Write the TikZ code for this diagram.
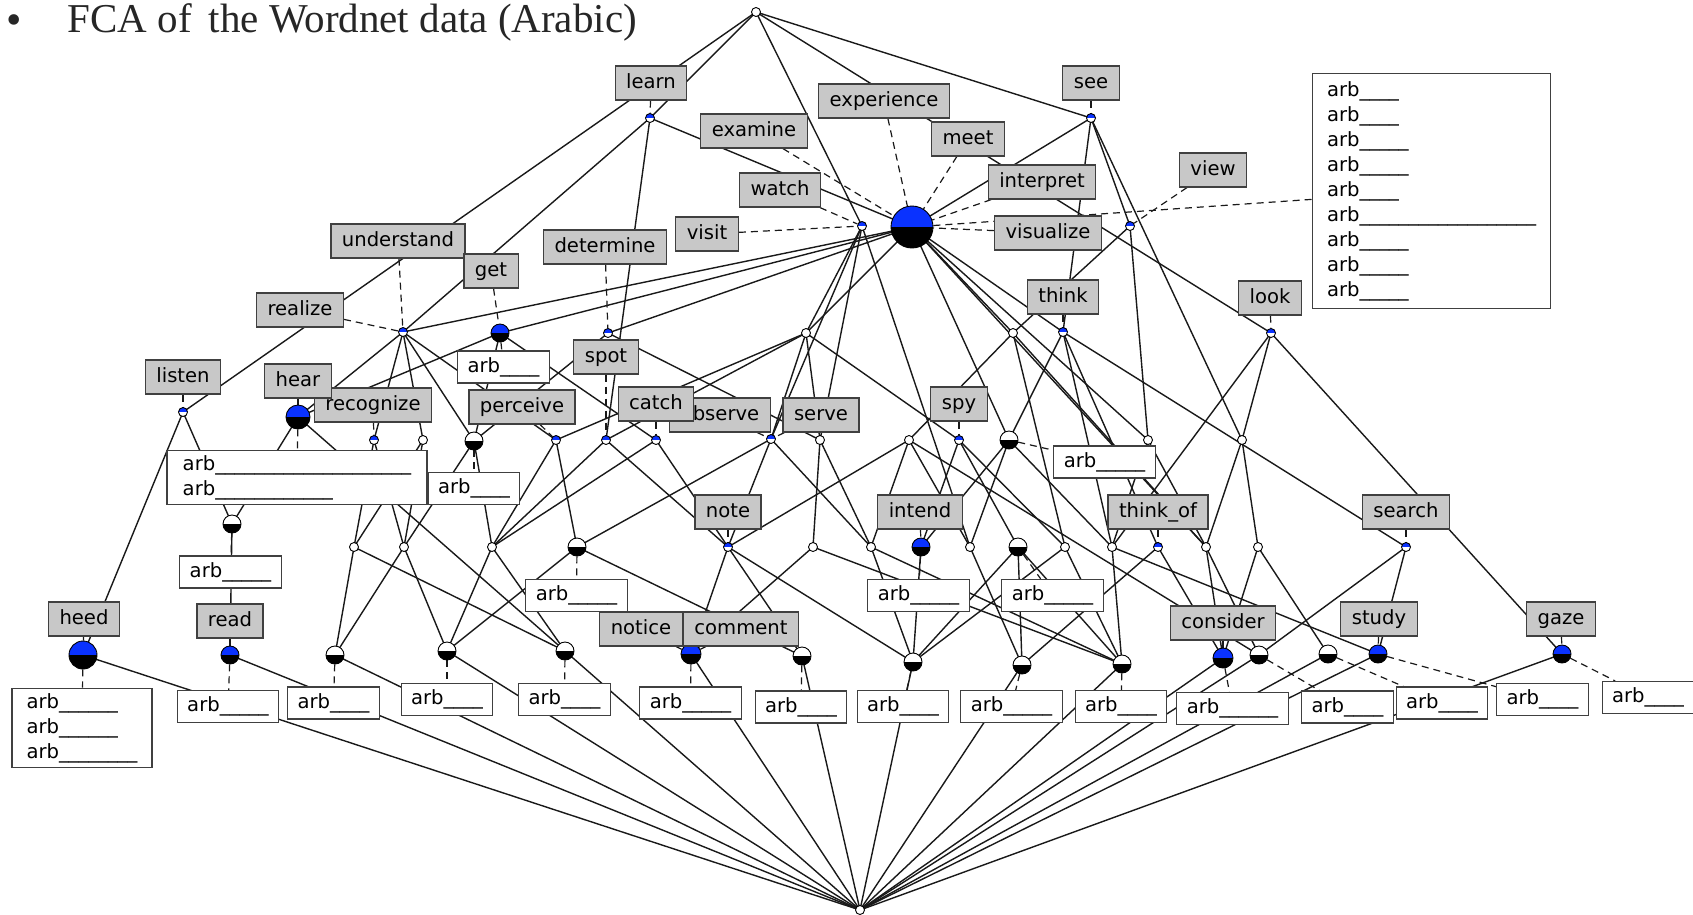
\documentclass[tikz,border=0pt]{standalone}
\usepackage{fontspec}
\setmainfont{Liberation Serif}
\newfontfamily\labfont{DejaVu Sans}
\newcommand\labtxt{\labfont\fontsize{19.6}{25}\selectfont}
\newcommand\ttltxt{\fontsize{41}{44}\selectfont}
\definecolor{cblue}{RGB}{10,50,255}
\definecolor{lblgray}{RGB}{200,200,200}
\pgfdeclarelayer{bg}
\pgfdeclarelayer{paper}
\pgfsetlayers{paper,bg,main}
\tikzset{
  attr/.style={draw=black!75, line width=1.2pt, fill=lblgray, font=\labtxt,
    inner xsep=11pt, inner ysep=0pt, minimum height=34pt, text height=14.5pt, text depth=4.5pt},
  obj/.style={draw=black!75, line width=1.2pt, fill=white, font=\labtxt,
    inner xsep=10pt, inner ysep=0pt, minimum height=32pt, text height=14.5pt, text depth=4.5pt},
  objm/.style={draw=black!75, line width=1.2pt, fill=white, font=\labtxt,
    inner xsep=10pt, inner ysep=5pt, align=left},
  edge/.style={line width=1.4pt, black!90},
  lbl/.style={line width=1.2pt, black!90, dash pattern=on 7pt off 5pt},
  cpt/.style n args={3}{circle, draw=black, line width=0.9pt, inner sep=0pt, minimum size=#1,
    path picture={
      \fill[#2] (path picture bounding box.north west) rectangle (path picture bounding box.east);
      \fill[#3] (path picture bounding box.west) rectangle (path picture bounding box.south east);}},
  sb/.style={cpt={9pt}{cblue}{white}},
  sw/.style={cpt={9pt}{white}{white}},
  hw/.style={cpt={18pt}{white}{black}},
  bb/.style={cpt={#1}{cblue}{black}},
}
\begin{document}
\begin{tikzpicture}[x=1pt,y=-1pt]
\begin{pgfonlayer}{paper}
\fill[white] (0,0) rectangle (1693,914);
\end{pgfonlayer}
\useasboundingbox (0,0) rectangle (1693,914);

% heading
\node[anchor=base, font=\fontsize{44}{44}\selectfont, text=black!85] (bul) at (14,34) {•};
\node[anchor=base west, font=\ttltxt, text=black!85] (title) at (64,32) {FCA of\ \,the Wordnet data (Arabic)};

% ---------- concepts ----------
\node[sw] (T) at (756,12) {};
\node[sw] (B) at (860,910) {};
\node[sb] (nLearn) at (650,118) {};
\node[sb] (nSee) at (1091,118) {};
\node[sb] (nVisit) at (862,226) {};
\node[bb=42pt] (nBig) at (912,227) {};
\node[sb] (nView) at (1130,226) {};
\node[sb] (nUnd) at (403,332) {};
\node[bb=18pt] (nGet) at (500,333) {};
\node[sb] (nDet) at (608,333) {};
\node[sw] (c1) at (806,333) {};
\node[sw] (c2) at (1013,333) {};
\node[sb] (nThink) at (1063,332) {};
\node[sb] (nLook) at (1271,333) {};
\node[sb] (nListen) at (183,412) {};
\node[bb=24pt] (nHear) at (298,417) {};
\node[sb] (nRecog) at (374,440) {};
\node[sw] (e1) at (423,440) {};
\node[hw] (h1) at (474,441) {};
\node[sb] (nPerc) at (556,440) {};
\node[sb] (nSpot) at (606,440) {};
\node[sb] (nCatch) at (656,440) {};
\node[sb] (nObs) at (771,439) {};
\node[sw] (nServe) at (820,440) {};
\node[sw] (e2) at (909,440) {};
\node[sb] (nSpy) at (959,440) {};
\node[hw] (h2) at (1009,440) {};
\node[sw] (e3) at (1148,440) {};
\node[sw] (e4) at (1242,440) {};
\node[hw] (h3) at (232,524) {};
\node[sw] (g1) at (354,547) {};
\node[sw] (g2) at (404,547) {};
\node[sw] (g3) at (492,547) {};
\node[hw] (h4) at (577,547) {};
\node[sb] (nNote) at (728,547) {};
\node[sw] (g4) at (813,547) {};
\node[sw] (g5) at (871,547) {};
\node[bb=18pt] (nIntend) at (921,547) {};
\node[sw] (g6) at (970,547) {};
\node[hw] (h5) at (1018,547) {};
\node[sw] (g7) at (1065,547) {};
\node[sw] (g8) at (1112,547) {};
\node[sb] (nThinkOf) at (1158,547) {};
\node[sw] (g9) at (1206,547) {};
\node[sw] (g10) at (1258,547) {};
\node[sb] (nSearch) at (1406,547) {};
\node[bb=28pt] (nHeed) at (83,655) {};
\node[bb=18pt] (nRead) at (230,655) {};
\node[hw] (h6) at (335,655) {};
\node[hw] (h7) at (447,651) {};
\node[hw] (h8) at (565,651) {};
\node[bb=20pt] (nNotice) at (691,654) {};
\node[hw] (h9) at (802,656) {};
\node[hw] (h10) at (913,662) {};
\node[hw] (h11) at (1022,665) {};
\node[hw] (h12) at (1122,664) {};
\node[bb=20pt] (nConsider) at (1223,658) {};
\node[hw] (h13) at (1259,655) {};
\node[hw] (h14) at (1328,654) {};
\node[bb=18pt] (nStudy) at (1378,654) {};
\node[bb=18pt] (nGaze) at (1562,654) {};

% ---------- attribute labels ----------
\node[attr] (lLearn) at (651,83) {learn};
\node[attr] (lExamine) at (754,131) {examine};
\node[attr] (lExperience) at (884,101) {experience};
\node[attr] (lMeet) at (968,139) {meet};
\node[attr] (lSee) at (1091,83) {see};
\node[attr] (lWatch) at (780,190) {watch};
\node[attr] (lVisit) at (707,234) {visit};
\node[attr] (lInterpret) at (1042,182) {interpret};
\node[attr] (lVisualize) at (1048,233) {visualize};
\node[attr] (lView) at (1213,170) {view};
\node[attr] (lThink) at (1063,297) {think};
\node[attr] (lLook) at (1270,298) {look};
\node[attr] (lUnderstand) at (398,241) {understand};
\node[attr] (lDetermine) at (605,247) {determine};
\node[attr] (lGet) at (491,271) {get};
\node[attr] (lRealize) at (300,310) {realize};
\node[attr] (lListen) at (183,377) {listen};
\node[attr] (lRecognize) at (373,405) {recognize};
\node[attr] (lHear) at (298,381) {hear};
\node[attr] (lSpot) at (606,357) {spot};
\node[attr] (lPerceive) at (522,407) {perceive};
\node[attr] (lObserve) at (720,415) {observe};
\node[attr] (lCatch) at (656,404) {catch};
\node[attr] (lServe) at (821,415) {serve};
\node[attr] (lSpy) at (959,404) {spy};
\node[attr] (lNote) at (728,512) {note};
\node[attr] (lIntend) at (920,512) {intend};
\node[attr] (lThinkOf) at (1158,512) {think\_of};
\node[attr] (lSearch) at (1406,512) {search};
\node[attr] (lHeed) at (84,619) {heed};
\node[attr] (lRead) at (230,621) {read};
\node[attr] (lNotice) at (641,629) {notice};
\node[attr] (lComment) at (741,629) {comment};
\node[attr] (lConsider) at (1223,623) {consider};
\node[attr] (lStudy) at (1379,619) {study};
\node[attr] (lGaze) at (1561,619) {gaze};

% ---------- object labels ----------
\node[objm, anchor=north west, minimum width=238pt, minimum height=235pt] (oBig) at (1312,73)
  {arb\_\_\_\_\\arb\_\_\_\_\\arb\_\_\_\_\_\\arb\_\_\_\_\_\\arb\_\_\_\_\\arb\_\_\_\_\_\_\_\_\_\_\_\_\_\_\_\_\_\_\\arb\_\_\_\_\_\\arb\_\_\_\_\_\\arb\_\_\_\_\_};
\node[objm, minimum width=260pt] (oHear) at (297,477.5)
  {arb\_\_\_\_\_\_\_\_\_\_\_\_\_\_\_\_\_\_\_\_\\arb\_\_\_\_\_\_\_\_\_\_\_\_};
\node[obj] (oH3) at (230.5,572) {arb\_\_\_\_\_};
\node[obj] (oGet) at (503.5,367) {arb\_\_\_\_};
\node[obj] (oH1) at (474,488.5) {arb\_\_\_\_};
\node[obj] (oH4) at (576.5,595.5) {arb\_\_\_\_\_};
\node[obj] (oIntend) at (918.5,595.5) {arb\_\_\_\_\_};
\node[obj] (oH5) at (1052.5,595.5) {arb\_\_\_\_\_};
\node[obj] (oH2) at (1104.5,462) {arb\_\_\_\_\_};
\node[objm, minimum width=140pt] (oHeed) at (82,728)
  {arb\_\_\_\_\_\_\\arb\_\_\_\_\_\_\\arb\_\_\_\_\_\_\_\_};
\node[obj] (oRead) at (228,706.5) {arb\_\_\_\_\_};
\node[obj] (oH6) at (333.5,703) {arb\_\_\_\_};
\node[obj] (oH7) at (447,699.5) {arb\_\_\_\_};
\node[obj] (oH8) at (564.5,699.5) {arb\_\_\_\_};
\node[obj] (oNotice) at (690.5,703) {arb\_\_\_\_\_};
\node[obj] (oH9) at (801,707) {arb\_\_\_\_};
\node[obj] (oH10) at (903,706.5) {arb\_\_\_\_};
\node[obj] (oH11) at (1011.5,706.5) {arb\_\_\_\_\_};
\node[obj] (oH12) at (1121,706.5) {arb\_\_\_\_};
\node[obj] (oConsider) at (1232.5,708.5) {arb\_\_\_\_\_\_};
\node[obj] (oH13) at (1347.5,707) {arb\_\_\_\_};
\node[obj] (oH14) at (1442,703) {arb\_\_\_\_};
\node[obj] (oStudy) at (1542.5,699.5) {arb\_\_\_\_};
\node[obj] (oGaze) at (1648,697.5) {arb\_\_\_\_};

\begin{pgfonlayer}{bg}
% ---------- lattice edges ----------
\foreach \a/\b in {T/nListen, T/nLearn, T/nVisit, T/nSee, T/nLook,
  nLearn/nUnd, nLearn/nSpot, nLearn/nBig,
  nSee/nBig, nSee/nThink, nSee/nView, nSee/e4,
  nVisit/nObs, nVisit/nServe, nVisit/g6, nVisit/c1,
  nBig/nUnd, nBig/nGet, nBig/nDet, nBig/c1, nBig/c2, nBig/h2, nBig/g9, nBig/nThink, nBig/e3,
  nView/e3, nView/c2,
  nUnd/nHear, nUnd/nRecog, nUnd/e1, nUnd/h1, nUnd/nPerc,
  nGet/h1, nGet/nHear, nGet/nCatch,
  nDet/nServe, nDet/h1,
  c1/nObs, c1/nSpy, c1/nServe, c1/nSpot, c1/nPerc,
  c2/e2, c2/g9, c2/g7,
  nThink/h2, nThink/nThinkOf, nThink/nSearch, nThink/g8,
  nLook/e4, nLook/g8, nLook/nGaze,
  nListen/nHeed, nListen/h3,
  nHear/h3, nHear/h8,
  nRecog/g1, nRecog/g2,
  e1/g1, e1/g2,
  h1/g2, h1/g3,
  nPerc/g3, nPerc/h4,
  nSpot/g3, nSpot/nNote,
  nCatch/nNote, nCatch/g3,
  nObs/nNote, nObs/h4, nObs/g5,
  nServe/g4, nServe/g5,
  e2/g5, e2/g6, e2/nNote, e2/h13,
  nSpy/nIntend, nSpy/h5, nSpy/g7,
  h2/nIntend, h2/g6, h2/g8,
  e3/g8, e3/g9,
  e4/g9, e4/g10,
  h3/nRead,
  g1/h6, g1/h8,
  g2/h6, g2/h7,
  g3/h7, g3/h8,
  h4/h7, h4/h9,
  nNote/nNotice, nNote/h9, nNote/h10,
  g4/nNotice, g4/h12,
  g5/h10, g5/h12,
  nIntend/h10,
  g6/h11,
  h5/h12, h5/h11, h5/h10,
  g7/h12, g7/h10,
  g8/h12, g8/nStudy,
  nThinkOf/nConsider, nThinkOf/h11,
  g9/nConsider, g9/h13,
  g10/h14, g10/nConsider,
  nSearch/nStudy, nSearch/h13,
  nHeed/B, nRead/B, h6/B, h7/B, h8/B, nNotice/B, h9/B, h10/B, h11/B, h12/B,
  nConsider/B, h13/B, h14/B, nStudy/B, nGaze/B}
  \draw[edge] (\a.center) -- (\b.center);

% ---------- label connectors ----------
\foreach \a/\b in {lLearn/nLearn, lExamine/nBig, lExperience/nBig, lMeet/nBig, lSee/nSee,
  lWatch/nVisit, lVisit/nVisit, lInterpret/nBig, lVisualize/nBig, lView/nView,
  lThink/nThink, lLook/nLook, lUnderstand/nUnd, lRealize/nUnd, lGet/nGet,
  lDetermine/nDet, lListen/nListen, lHear/nHear, lRecognize/nRecog, lSpot/nSpot,
  lPerceive/nPerc, lCatch/nCatch, lObserve/nObs, lServe/nObs, lSpy/nSpy,
  lNote/nNote, lIntend/nIntend, lThinkOf/nThinkOf, lSearch/nSearch,
  lHeed/nHeed, lRead/nRead, lNotice/nNotice, lComment/nNotice, lConsider/nConsider,
  lStudy/nStudy, lGaze/nGaze,
  nBig/oBig, nHear/oHear, h3/oH3, nGet/oGet, h1/oH1, h2/oH2, h4/oH4, nIntend/oIntend,
  h5/oH5, nHeed/oHeed, nRead/oRead, h6/oH6, h7/oH7, h8/oH8, nNotice/oNotice,
  h9/oH9, h10/oH10, h11/oH11, h12/oH12, nConsider/oConsider, h13/oH13, h14/oH14,
  nStudy/oStudy, nGaze/oGaze}
  \draw[lbl] (\a) -- (\b);
\end{pgfonlayer}
\end{tikzpicture}
\end{document}
